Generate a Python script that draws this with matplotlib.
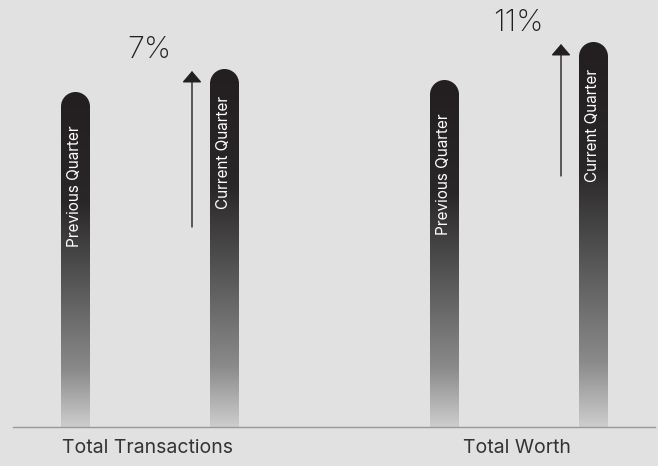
import numpy as np
import matplotlib
matplotlib.use("Agg")
import matplotlib.pyplot as plt
from matplotlib.path import Path
from matplotlib.patches import PathPatch
from matplotlib.colors import LinearSegmentedColormap

# values for each metric
categories = ["Total Transactions", "Total Worth"]
previous = [335, 347]
current = [358, 385]
series_names = ["Previous Quarter", "Current Quarter"]

BG = "#e1e1e1"
plt.rcParams['font.family'] = ['Inter', 'DejaVu Sans']

fig = plt.figure(figsize=(6.58, 4.66), dpi=100, facecolor=BG)
ax = fig.add_axes([0, 0, 1, 1])
ax.set_facecolor(BG)
ax.set_xlim(0, 658)
ax.set_ylim(-39, 427)
ax.axis("off")

cmap = LinearSegmentedColormap.from_list(
    "fade", [(0.0, "#cdcdcd"), (0.17, "#8a8a8a"), (0.42, "#585858"),
             (0.67, "#2a2728"), (1.0, "#231f20")])
grad = np.linspace(0, 1, 256).reshape(-1, 1)

width = 29
r = width / 2


def rounded_bar(xc, h):
    x0, x1 = xc - r, xc + r
    arc = Path.arc(0, 180)
    arc_verts = arc.vertices * r + [xc, h - r]
    verts = [(x1, 0), (x1, h - r)] + [tuple(v) for v in arc_verts[1:]] + [(x0, 0), (x1, 0)]
    codes = ([Path.MOVETO, Path.LINETO] + list(arc.codes[1:])
             + [Path.LINETO, Path.CLOSEPOLY])
    patch = PathPatch(Path(verts, codes), facecolor="none", edgecolor="none")
    ax.add_patch(patch)
    im = ax.imshow(grad, cmap=cmap, origin="lower", aspect="auto",
                   extent=(x0, x1, 0, h), zorder=2)
    im.set_clip_path(patch)


centers = [150, 519]
offset = 74.5
arrow_len = [156, 132]
label_gap = [33, 27]

for i, cat in enumerate(categories):
    xc = centers[i]
    xs = [xc - offset, xc + offset]
    vals = [previous[i], current[i]]
    for j in range(2):
        rounded_bar(xs[j], vals[j])
        ax.text(xs[j] - 1, vals[j] - label_gap[j], series_names[j], rotation=90,
                color="white", fontsize=11, ha="center", va="top", zorder=3)

    # change indicator
    ax_x = xc + 42
    tip = current[i] - 2
    ax.annotate("", xy=(ax_x, tip), xytext=(ax_x, tip - arrow_len[i]),
                arrowprops=dict(arrowstyle="-|>,head_length=0.7,head_width=0.6",
                                color="#231f20", lw=1.0, shrinkA=0, shrinkB=0),
                zorder=3)
    pct = round((current[i] / previous[i] - 1) * 100)
    ax.text(ax_x - 43, tip + 21, f"{pct}%", fontsize=22, fontweight="light",
            color="#231f20", ha="center", va="center")

    ax.text(xc - 2, -21, cat, fontsize=14, color="#333333",
            ha="center", va="center")

ax.plot([13, 655], [0, 0], color="#999999", lw=1.0, zorder=4)

fig.savefig("out.png", dpi=100, facecolor=BG)
